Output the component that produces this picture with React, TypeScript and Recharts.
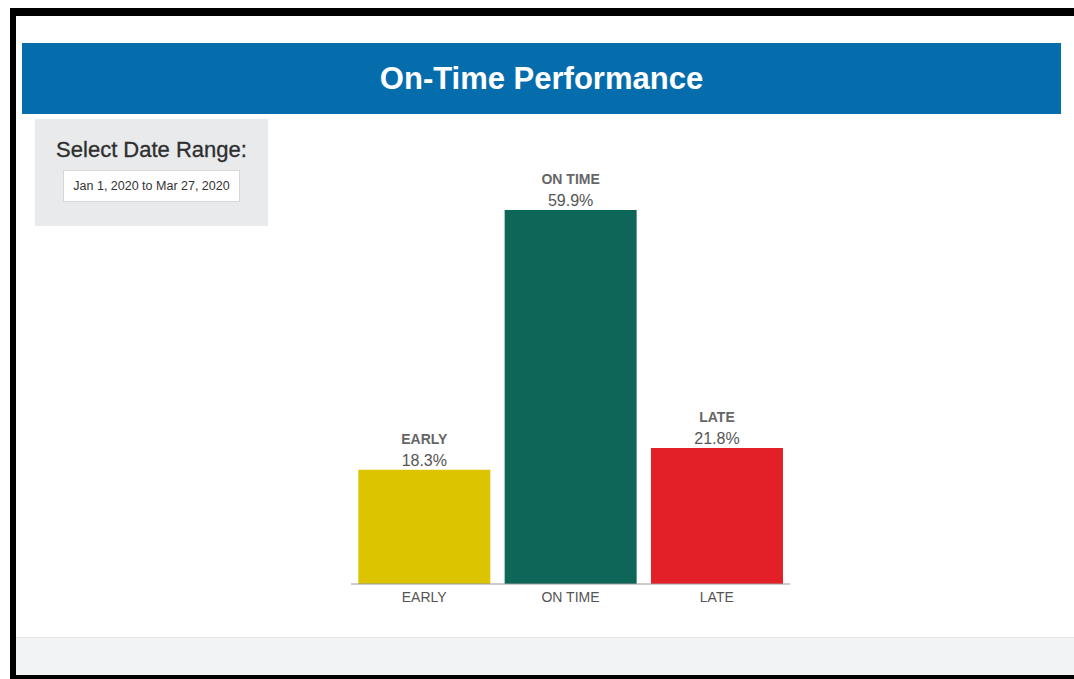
import { BarChart, Bar, XAxis, YAxis, Cell, LabelList } from "recharts";

// Share of trips by arrival status (percent)
const categories = ["EARLY", "ON TIME", "LATE"];
const shares = [18.3, 59.9, 21.8];
const barColors = ["#DCC500", "#0E6659", "#E32028"];

const dateRange = "Jan 1, 2020 to Mar 27, 2020";

const FONT = "'Liberation Sans', Arial, Helvetica, sans-serif";

const data = categories.map((name, i) => ({ name, value: shares[i] }));

export default function App() {
  return (
    <div
      style={{
        position: "absolute",
        left: 0,
        top: 0,
        width: 1074,
        height: 679,
        background: "#fff",
        overflow: "hidden",
        fontFamily: FONT,
      }}
    >
      {/* frame */}
      <div style={{ position: "absolute", left: 10, top: 8, width: 1064, height: 8, background: "#000" }} />
      <div style={{ position: "absolute", left: 10, top: 8, width: 6, height: 671, background: "#000" }} />
      <div style={{ position: "absolute", left: 10, top: 675, width: 1064, height: 4, background: "#000" }} />

      {/* header */}
      <div
        style={{
          position: "absolute",
          left: 22,
          top: 43,
          width: 1039,
          height: 71,
          background: "#066DAD",
          color: "#fff",
          fontSize: 31,
          fontWeight: 700,
          display: "flex",
          alignItems: "center",
          justifyContent: "center",
        }}
      >
        On-Time Performance
      </div>

      {/* date range panel */}
      <div
        style={{
          position: "absolute",
          left: 35,
          top: 119,
          width: 233,
          height: 107,
          background: "#E8EAEB",
        }}
      >
        <div
          style={{
            position: "absolute",
            left: 0,
            top: 18,
            width: 233,
            textAlign: "center",
            fontSize: 22,
            color: "#2E2E2E",
            WebkitTextStroke: "0.3px #2E2E2E",
          }}
        >
          Select Date Range:
        </div>
        <div
          style={{
            position: "absolute",
            left: 28,
            top: 51,
            width: 175,
            height: 30,
            background: "#fff",
            border: "1px solid #D6D8DA",
            fontSize: 12.5,
            color: "#333",
            display: "flex",
            alignItems: "center",
            justifyContent: "center",
          }}
        >
          {dateRange}
        </div>
      </div>

      {/* chart */}
      <div style={{ position: "absolute", left: 340, top: 150 }}>
        <BarChart
          width={460}
          height={470}
          data={data}
          margin={{ top: 60, right: 10, bottom: 6, left: 11 }}
          barCategoryGap="5%"
        >
          <XAxis
            dataKey="name"
            tickLine={false}
            axisLine={{ stroke: "#999" }}
            tick={{ fill: "#555", fontSize: 14, fontFamily: FONT }}
            interval={0}
          />
          <YAxis hide domain={[0, "dataMax"]} />
          <Bar dataKey="value" isAnimationActive={false}>
            {data.map((d, i) => (
              <Cell key={d.name} fill={barColors[i]} />
            ))}
            <LabelList
              dataKey="name"
              position="top"
              offset={26}
              style={{ fill: "#666", fontSize: 14, fontWeight: 700, fontFamily: FONT }}
            />
            <LabelList
              dataKey="value"
              position="top"
              offset={4}
              formatter={(v: number) => `${v}%`}
              style={{ fill: "#555", fontSize: 16, fontFamily: FONT }}
            />
          </Bar>
        </BarChart>
      </div>

      {/* footer band */}
      <div
        style={{
          position: "absolute",
          left: 16,
          top: 637,
          width: 1058,
          height: 38,
          background: "#F2F3F4",
          borderTop: "1px solid #E6E7E8",
          boxSizing: "border-box",
        }}
      />
    </div>
  );
}
